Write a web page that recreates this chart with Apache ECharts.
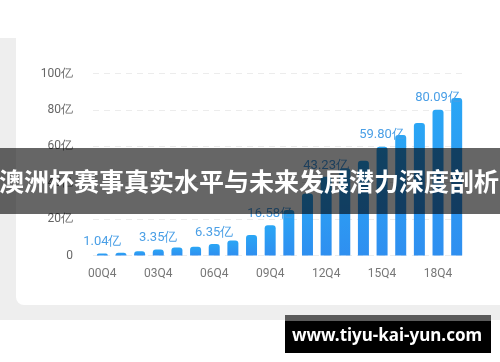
<!DOCTYPE html>
<html>
<head>
<meta charset="utf-8">
<script src="https://cdn.jsdelivr.net/npm/echarts@6/dist/echarts.min.js"></script>
<style>
  html, body { margin: 0; padding: 0; background: #fff; }
  #chart { width: 500px; height: 362px; }
</style>
</head>
<body>
<div id="chart"></div>
<script>
var myChart = echarts.init(document.getElementById('chart'));

// 季度（每年Q4）
var categories = ['00Q4', '01Q4', '02Q4', '03Q4', '04Q4', '05Q4', '06Q4', '07Q4', '08Q4', '09Q4',
                  '10Q4', '11Q4', '12Q4', '13Q4', '14Q4', '15Q4', '16Q4', '17Q4', '18Q4', '19Q4'];
// 单位：亿
var values = [1.04, 1.5, 2.3, 3.35, 4.4, 4.8, 6.35, 8.3, 11.3, 16.58,
              25, 34, 43.23, 48, 52.1, 59.80, 66.2, 72.8, 80.09, 86.5];
// 显示数值标签的柱子
var labelIdx = [0, 3, 6, 9, 12, 15, 18];
var yTicks = [0, 20, 40, 60, 80, 100];

var title = '澳洲杯赛事真实水平与未来发展潜力深度剖析';
var site = 'www.tiyu-kai-yun.com';

var barData = values.map(function (v, i) {
    return {
        value: v,
        label: { show: labelIdx.indexOf(i) >= 0 }
    };
});

option = {
    backgroundColor: '#fff',
    animation: false,
    graphic: [
        // 灰色底
        { type: 'rect', z: -10, shape: { x: 0, y: 38, width: 500, height: 282 }, style: { fill: '#eeeeee' } },
        // 白色卡片
        { type: 'rect', z: -9, shape: { x: 16, y: 38, width: 494, height: 267, r: [0, 0, 0, 8] }, style: { fill: '#ffffff' } },
        // 标题横幅
        { type: 'rect', z: 100, shape: { x: 0, y: 148, width: 500, height: 66 }, style: { fill: 'rgba(0,0,0,0.6)' } },
        { type: 'text', z: 101, x: 249, y: 181,
          style: { text: title, fill: '#fff', font: 'bold 25px "Noto Sans CJK SC"', align: 'center', verticalAlign: 'middle' } },
        // 水印
        { type: 'rect', z: 100, shape: { x: 285, y: 315, width: 206, height: 6 }, style: { fill: '#5a5a5a' } },
        { type: 'rect', z: 100, shape: { x: 285, y: 321, width: 206, height: 32 }, style: { fill: '#000' } },
        { type: 'text', z: 101, x: 387, y: 336,
          style: { text: site, fill: '#fff', font: 'bold 17px "Noto Sans"', align: 'center', verticalAlign: 'middle' } }
    ],
    grid: { left: 93, right: 34, top: 73.5, bottom: 106.5 },
    xAxis: {
        type: 'category',
        data: categories,
        axisLine: { show: false },
        axisTick: { show: false },
        axisLabel: { interval: 2, color: '#777', fontSize: 12, margin: 12, fontFamily: 'Roboto' }
    },
    yAxis: {
        type: 'value',
        min: yTicks[0],
        max: yTicks[yTicks.length - 1],
        interval: 20,
        axisLine: { show: false },
        axisTick: { show: false },
        splitLine: { lineStyle: { color: '#ececec', type: [6, 5] } },
        axisLabel: {
            color: '#666', fontSize: 12, margin: 20, fontFamily: 'Roboto',
            formatter: function (v) { return v === 0 ? '0' : v + '亿'; }
        }
    },
    series: [{
        type: 'bar',
        data: barData,
        barWidth: 11,
        itemStyle: {
            borderRadius: [3, 3, 0, 0],
            color: new echarts.graphic.LinearGradient(0, 0, 0, 1, [
                { offset: 0, color: '#2aa6f5' },
                { offset: 1, color: '#2f8ff0' }
            ])
        },
        label: {
            position: 'top',
            distance: 5,
            color: '#4a9fe6',
            fontSize: 13,
            fontFamily: 'Roboto',
            formatter: function (p) { return p.value.toFixed(2) + '亿'; }
        }
    }]
};

myChart.setOption(option);
</script>
</body>
</html>
